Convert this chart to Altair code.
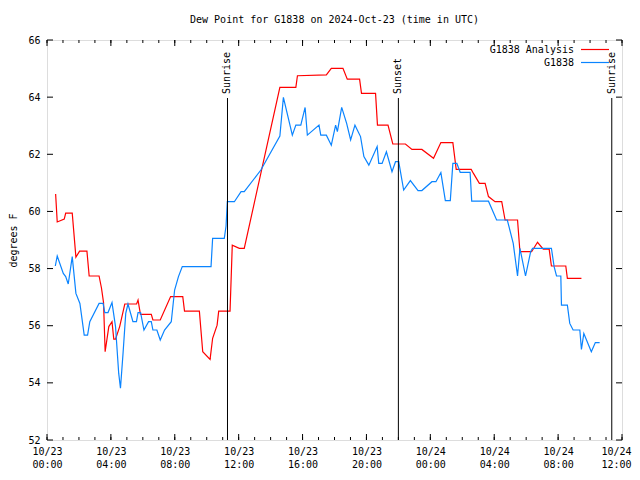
import altair as alt
import pandas as pd

# Hours since 2024-10-23 00:00 UTC
analysis_hours = [0.54, 0.64, 1.08, 1.17, 1.58, 1.81, 2.04, 2.50, 2.64, 3.26,
                  3.41, 3.54, 3.64, 3.87, 4.07, 4.18, 4.29, 4.55, 4.87, 5.61,
                  5.70, 5.85, 6.53, 6.63, 7.09, 7.74, 8.50, 8.61, 9.54, 9.75,
                  10.21, 10.37, 10.65, 10.75, 11.46, 11.60, 12.04, 12.35, 14.58, 15.58,
                  15.68, 17.49, 17.80, 18.53, 18.80, 19.57, 19.69, 20.57, 20.69, 21.35,
                  21.65, 22.44, 22.85, 23.47, 24.20, 24.66, 25.41, 25.62, 26.56, 26.70,
                  27.07, 27.43, 27.64, 28.05, 28.47, 28.68, 29.46, 29.61, 30.34, 30.71,
                  31.07, 31.44, 31.58, 32.48, 32.58, 33.46]
analysis_dewpt = [60.61, 59.63, 59.73, 59.94, 59.94, 58.40, 58.61, 58.61, 57.74, 57.74,
                  57.32, 56.81, 55.09, 55.97, 56.14, 55.53, 55.53, 55.97, 56.76, 56.76,
                  56.90, 56.40, 56.40, 56.20, 56.20, 57.02, 57.02, 56.51, 56.51, 55.09,
                  54.82, 55.56, 56.02, 56.51, 56.51, 58.82, 58.71, 58.71, 64.34, 64.34,
                  64.75, 64.78, 65.01, 65.01, 64.63, 64.63, 64.13, 64.13, 63.02, 63.02,
                  62.36, 62.36, 62.17, 62.17, 61.86, 62.41, 62.41, 61.47, 61.47, 61.33,
                  60.98, 60.98, 60.52, 60.34, 60.34, 59.70, 59.70, 58.59, 58.59, 58.92,
                  58.68, 58.68, 58.09, 58.09, 57.66, 57.66]

obs_hours = [0.52, 0.64, 1.02, 1.17, 1.33, 1.58, 1.81, 2.06, 2.33, 2.54,
             2.68, 3.26, 3.51, 3.62, 3.82, 4.07, 4.29, 4.49, 4.60, 4.76,
             4.93, 5.07, 5.38, 5.60, 5.70, 5.86, 6.07, 6.36, 6.53, 6.63,
             6.88, 7.09, 7.36, 7.78, 7.99, 8.23, 8.47, 10.27, 10.37, 11.10,
             11.21, 11.29, 11.73, 12.15, 12.35, 13.39, 14.58, 14.80, 15.36, 15.58,
             15.89, 16.16, 16.30, 17.03, 17.14, 17.49, 17.80, 18.07, 18.18, 18.45,
             18.76, 19.01, 19.28, 19.63, 19.84, 20.15, 20.67, 20.77, 20.98, 21.25,
             21.60, 21.82, 22.02, 22.33, 22.75, 23.23, 23.47, 24.10, 24.35, 24.66,
             24.94, 25.25, 25.41, 25.66, 25.87, 26.49, 26.59, 27.64, 28.15, 28.82,
             29.19, 29.46, 29.61, 29.96, 30.28, 30.40, 31.58, 31.75, 31.90, 32.17,
             32.21, 32.58, 32.73, 32.94, 33.36, 33.46, 33.61, 34.08, 34.33, 34.60]
obs_dewpt = [58.09, 58.44, 57.83, 57.72, 57.46, 58.42, 57.13, 56.78, 55.67, 55.67,
             56.14, 56.78, 56.78, 56.46, 56.46, 56.81, 55.97, 54.33, 53.81, 55.03,
             56.43, 56.76, 56.14, 56.14, 56.46, 56.46, 55.85, 56.14, 56.14, 55.85,
             55.85, 55.50, 55.85, 56.14, 57.25, 57.72, 58.07, 58.07, 59.06, 59.06,
             59.49, 60.34, 60.34, 60.69, 60.69, 61.45, 62.64, 63.99, 62.67, 63.02,
             63.02, 63.64, 62.67, 63.02, 62.67, 62.67, 62.32, 63.02, 62.79, 63.64,
             63.08, 62.50, 63.02, 62.62, 61.92, 61.62, 62.27, 61.68, 61.68, 62.09,
             61.39, 61.74, 61.74, 60.75, 61.08, 60.73, 60.73, 61.04, 61.04, 61.36,
             60.38, 60.38, 61.68, 61.68, 61.37, 61.37, 60.36, 60.36, 59.70, 59.70,
             58.88, 57.74, 58.71, 57.74, 58.59, 58.71, 58.71, 58.07, 57.74, 57.74,
             56.72, 56.72, 56.08, 55.85, 55.85, 55.17, 55.73, 55.09, 55.41, 55.41]

series_names = ["G1838 Analysis", "G1838"]
series_colors = ["#ff0000", "#0a84ff"]

event_names = ["Sunrise", "Sunset", "Sunrise"]
event_hours = [11.30, 22.00, 35.36]

label_hours = [0, 4, 8, 12, 16, 20, 24, 28, 32, 36]
date_labels = ["10/23", "10/23", "10/23", "10/23", "10/23", "10/23",
               "10/24", "10/24", "10/24", "10/24"]
time_labels = ["00:00", "04:00", "08:00", "12:00", "16:00", "20:00",
               "00:00", "04:00", "08:00", "12:00"]
minor_hours = list(range(0, 37))
y_ticks = [52, 54, 56, 58, 60, 62, 64, 66]

FONT = "DejaVu Sans Mono"
W, H = 575, 400

df = pd.concat([
    pd.DataFrame({"hour": analysis_hours, "dewpt": analysis_dewpt, "series": series_names[0]}),
    pd.DataFrame({"hour": obs_hours, "dewpt": obs_dewpt, "series": series_names[1]}),
])
ev = pd.DataFrame({"hour": event_hours, "name": event_names})
major_df = pd.DataFrame({"hour": label_hours})
minor_df = pd.DataFrame({"hour": minor_hours})
ytick_df = pd.DataFrame({"v": y_ticks})

label_expr = "[" + ",".join(f"['{d}','{t}']" for d, t in zip(date_labels, time_labels)) + "][round(datum.value/4)]"

xscale = alt.Scale(domain=[0, 36], nice=False, zero=False)
yscale = alt.Scale(domain=[52, 66], nice=False, zero=False)

lines = alt.Chart(df).mark_line(strokeWidth=1.2, interpolate="linear").encode(
    x=alt.X("hour:Q", scale=xscale,
            axis=alt.Axis(values=label_hours, labelExpr=label_expr, ticks=False, domain=False,
                          grid=False, title=None, labelFont=FONT, labelFontSize=10,
                          labelColor="black", labelPadding=6, labelLineHeight=13,
                          labelFlush=False, labelOverlap=False,
                          labelOffset={"condition": {"test": "datum.value == 36", "value": -6},
                                       "value": 0})),
    y=alt.Y("dewpt:Q", scale=yscale,
            axis=alt.Axis(values=y_ticks, ticks=False, domain=False, grid=False,
                          title="degrees F", titleFont=FONT, titleFontSize=10,
                          titleFontWeight="normal", titleColor="black", titlePadding=9,
                          labelFont=FONT, labelFontSize=10, labelColor="black",
                          labelPadding=7)),
    color=alt.Color("series:N", scale=alt.Scale(domain=series_names, range=series_colors), legend=None),
    detail="series:N",
)

ev_rules = alt.Chart(ev).mark_rule(color="black", strokeWidth=1).encode(
    x=alt.X("hour:Q", scale=xscale), y=alt.value(58), y2=alt.value(H))
ev_text = alt.Chart(ev).mark_text(angle=270, align="left", baseline="middle",
                                  font=FONT, fontSize=10, color="black").encode(
    x=alt.X("hour:Q", scale=xscale), y=alt.value(54), text="name:N")

maj_bot = alt.Chart(major_df).mark_rule(color="black").encode(
    x=alt.X("hour:Q", scale=xscale), y=alt.value(H), y2=alt.value(H - 6))
maj_top = alt.Chart(major_df).mark_rule(color="black").encode(
    x=alt.X("hour:Q", scale=xscale), y=alt.value(0), y2=alt.value(6))
min_bot = alt.Chart(minor_df).mark_rule(color="black").encode(
    x=alt.X("hour:Q", scale=xscale), y=alt.value(H), y2=alt.value(H - 3))
min_top = alt.Chart(minor_df).mark_rule(color="black").encode(
    x=alt.X("hour:Q", scale=xscale), y=alt.value(0), y2=alt.value(3))
yt_left = alt.Chart(ytick_df).mark_rule(color="black").encode(
    y=alt.Y("v:Q", scale=yscale), x=alt.value(0), x2=alt.value(6))
yt_right = alt.Chart(ytick_df).mark_rule(color="black").encode(
    y=alt.Y("v:Q", scale=yscale), x=alt.value(W - 6), x2=alt.value(W))

leg_layers = []
for i, (name, col) in enumerate(zip(series_names, series_colors)):
    yy = 9.5 + 13 * i
    leg_layers.append(alt.Chart(pd.DataFrame({"n": [name]})).mark_text(
        align="right", baseline="middle", font=FONT, fontSize=10, color="black").encode(
        x=alt.value(527), y=alt.value(yy), text="n:N"))
    leg_layers.append(alt.Chart(pd.DataFrame({"n": [name]})).mark_rule(
        color=col, strokeWidth=1.2).encode(
        x=alt.value(534), x2=alt.value(562), y=alt.value(yy)))

chart = alt.layer(lines, ev_rules, ev_text, maj_bot, maj_top, min_bot, min_top,
                  yt_left, yt_right, *leg_layers).properties(
    width=W, height=H,
    title=alt.TitleParams("Dew Point for G1838 on 2024-Oct-23 (time in UTC)",
                          font=FONT, fontSize=10, fontWeight="normal", color="black",
                          anchor="middle", offset=10),
    autosize=alt.AutoSizeParams(type="none"),
    padding={"left": 39, "top": 32, "right": 10, "bottom": 32},
).configure_view(stroke="black", strokeWidth=1).configure(background="white")

chart.save("out.html", embed_options={"renderer": "svg", "actions": False})
